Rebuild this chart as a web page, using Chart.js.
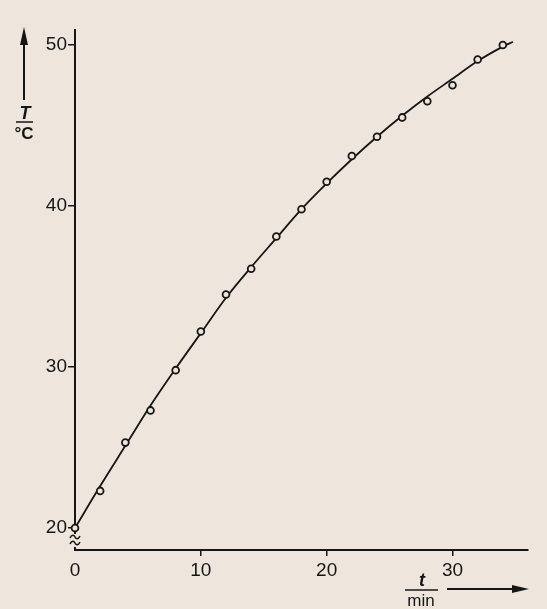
<!DOCTYPE html>
<html>
<head>
<meta charset="utf-8">
<script src="https://cdn.jsdelivr.net/npm/chart.js@4/dist/chart.umd.min.js"></script>
<style>
  html, body { margin: 0; padding: 0; background: #eee6dd; }
  canvas { display: block; }
</style>
</head>
<body>
<canvas id="heatChart" width="547" height="609"></canvas>
<script>
// measured points: time in min, temperature in °C
const timeMin = [0, 2, 4, 6, 8, 10, 12, 14, 16, 18, 20, 22, 24, 26, 28, 30, 32, 34];
const tempC = [20.0, 22.3, 25.3, 27.3, 29.8, 32.2, 34.5, 36.1, 38.1, 39.8, 41.5, 43.1, 44.3, 45.5, 46.5, 47.5, 49.1, 50.0];

// smooth drawn curve
const curveTime = [0, 2, 4, 6, 8, 10, 12, 14, 16, 18, 20, 22, 24, 26, 28, 30, 32, 34, 34.8];
const curveTemp = [20.0, 22.6, 25.1, 27.6, 29.9, 32.1, 34.3, 36.2, 38.0, 39.8, 41.4, 42.9, 44.3, 45.6, 46.8, 47.9, 49.0, 49.9, 50.2];

const xTicks = [0, 10, 20, 30];
const yTicks = [20, 30, 40, 50];

const INK = "#161616";
const PAPER = "#eee6dd";
const FONT = "'Liberation Sans', Arial, sans-serif";

// one small tilde stroke, used twice for the axis break
function tilde(c, x, y) {
  c.beginPath();
  c.moveTo(x - 5, y + 1);
  c.bezierCurveTo(x - 3, y - 3, x - 1, y - 2, x, y);
  c.bezierCurveTo(x + 1, y + 2, x + 3, y + 3, x + 5, y - 1);
  c.stroke();
}

/**
 * Axis labels drawn as fractions with arrows, plus the axis break mark
 */
const axisDecor = {
  id: "axisDecor",
  afterDraw(chart) {
    const c = chart.ctx;
    c.save();
    c.strokeStyle = INK;
    c.fillStyle = INK;
    c.lineWidth = 2;

    // y: up arrow
    c.beginPath();
    c.moveTo(24, 100);
    c.lineTo(24, 40);
    c.stroke();
    c.beginPath();
    c.moveTo(24, 27);
    c.lineTo(20, 45);
    c.lineTo(28, 45);
    c.closePath();
    c.fill();

    // y: T / °C
    c.textAlign = "center";
    c.textBaseline = "alphabetic";
    c.font = `italic bold 18px ${FONT}`;
    c.fillText("T", 25, 119);
    c.lineWidth = 1.5;
    c.beginPath();
    c.moveTo(16, 122);
    c.lineTo(33, 122);
    c.stroke();
    c.font = `bold 17px ${FONT}`;
    c.fillText("°C", 24, 139);

    // x: t / min
    c.font = `italic bold 18px ${FONT}`;
    c.fillText("t", 422, 586);
    c.beginPath();
    c.moveTo(405, 590);
    c.lineTo(438, 590);
    c.stroke();
    c.font = `17px ${FONT}`;
    c.fillText("min", 421, 606);

    // x: right arrow
    c.lineWidth = 2;
    c.beginPath();
    c.moveTo(447, 589);
    c.lineTo(516, 589);
    c.stroke();
    c.beginPath();
    c.moveTo(529, 589);
    c.lineTo(512, 585);
    c.lineTo(512, 593);
    c.closePath();
    c.fill();

    // break mark on the y axis
    const xa = chart.chartArea.left;
    c.fillStyle = PAPER;
    c.fillRect(xa - 3, 534, 6, 13);
    c.lineWidth = 1.6;
    tilde(c, xa, 537);
    tilde(c, xa, 543);
    c.restore();
  },
};

new Chart(document.getElementById("heatChart"), {
  data: {
    datasets: [
      {
        type: "line",
        data: timeMin.map((t, i) => ({ x: t, y: tempC[i] })),
        showLine: false,
        pointRadius: 3.4,
        pointBorderWidth: 1.8,
        pointBorderColor: INK,
        pointBackgroundColor: PAPER,
        order: 0,
        clip: false,
      },
      {
        type: "line",
        data: curveTime.map((t, i) => ({ x: t, y: curveTemp[i] })),
        borderColor: INK,
        borderWidth: 1.8,
        pointRadius: 0,
        cubicInterpolationMode: "monotone",
        fill: false,
        order: 1,
        clip: false,
      },
    ],
  },
  options: {
    responsive: false,
    animation: false,
    events: [],
    layout: { padding: { top: 30, right: 19, left: 0, bottom: 0 } },
    plugins: {
      legend: { display: false },
      tooltip: { enabled: false },
    },
    scales: {
      x: {
        type: "linear",
        min: 0,
        max: 36,
        afterBuildTicks: (s) => { s.ticks = xTicks.map((v) => ({ value: v })); },
        afterFit: (s) => { s.height = 59; },
        border: { display: true, color: INK, width: 2 },
        grid: {
          drawOnChartArea: false,
          drawTicks: true,
          tickLength: 6,
          lineWidth: 1.5,
          color: (ctx) => (ctx.tick && ctx.tick.value === 0 ? "rgba(0,0,0,0)" : INK),
        },
        ticks: {
          color: INK,
          padding: 3,
          maxRotation: 0,
          font: { family: FONT, size: 19 },
        },
      },
      y: {
        type: "linear",
        min: 18.63,
        max: 50.93,
        afterBuildTicks: (s) => { s.ticks = yTicks.map((v) => ({ value: v })); },
        afterFit: (s) => { s.width = 75; },
        border: { display: true, color: INK, width: 2 },
        grid: {
          drawOnChartArea: false,
          drawTicks: true,
          tickLength: 7,
          lineWidth: 1.5,
          color: INK,
        },
        ticks: {
          color: INK,
          padding: 1,
          font: { family: FONT, size: 19 },
        },
      },
    },
  },
  plugins: [axisDecor],
});
</script>
</body>
</html>
